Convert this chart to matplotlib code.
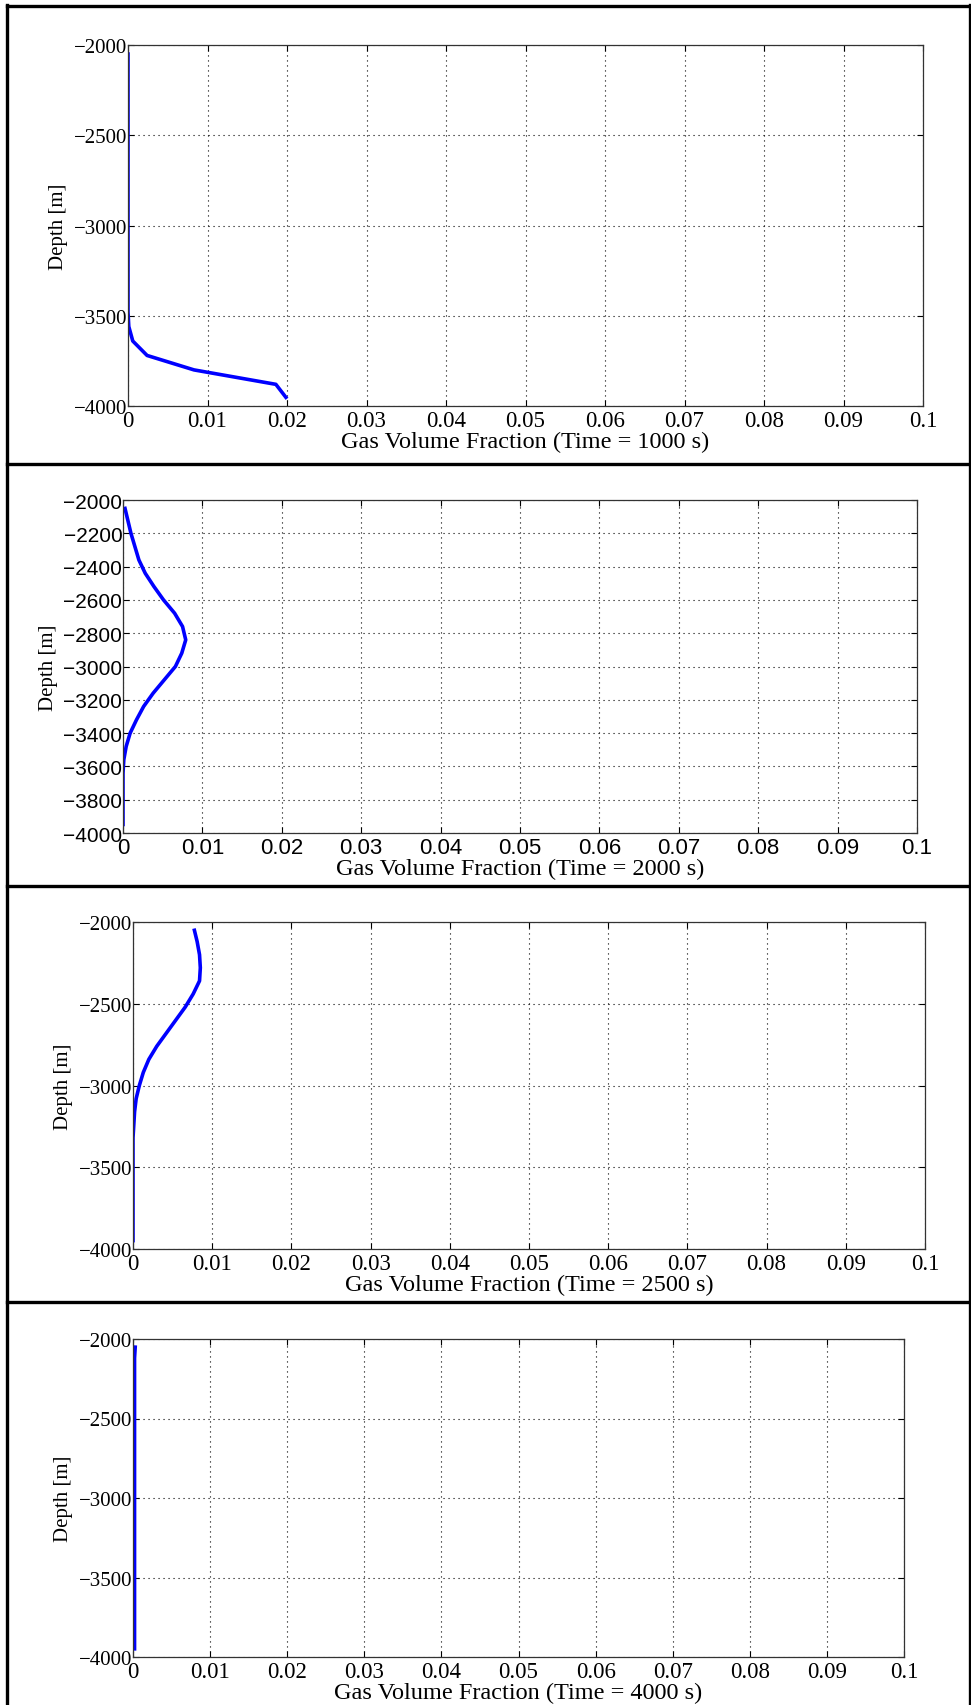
import matplotlib
matplotlib.use("Agg")
import matplotlib.pyplot as plt
from matplotlib.lines import Line2D

# depth cells (m), top to bottom
depth = [-2040, -2120, -2200, -2280, -2360, -2440, -2520, -2600, -2680,
         -2760, -2840, -2920, -3000, -3080, -3160, -3240, -3320, -3400,
         -3480, -3560, -3640, -3720, -3800, -3880, -3960]

# gas volume fraction at each cell for the four snapshots
gvf_1000 = [0, 0, 0, 0, 0, 0, 0, 0, 0, 0, 0, 0, 0, 0, 0, 0, 0, 0,
            0, 0.0001, 0.0006, 0.0024, 0.0083, 0.0186, 0.0200]
gvf_2000 = [0.0002, 0.0006, 0.0010, 0.0015, 0.0020, 0.0028, 0.0039, 0.0051,
            0.0065, 0.0075, 0.0079, 0.0074, 0.0066, 0.0052, 0.0038, 0.0026,
            0.0017, 0.0009, 0.0004, 0.0001, 0, 0, 0, 0, 0]
gvf_2500 = [0.0077, 0.0081, 0.0084, 0.0085, 0.0084, 0.0076, 0.0066, 0.0054,
            0.0042, 0.0030, 0.0020, 0.0013, 0.0008, 0.0004, 0.0002, 0.0001,
            0, 0, 0, 0, 0, 0, 0, 0, 0]
gvf_4000 = [0.0003] + [0.0002] * 24

times = [1000, 2000, 2500, 4000]
series = [gvf_1000, gvf_2000, gvf_2500, gvf_4000]

x_ticks = [0, 0.01, 0.02, 0.03, 0.04, 0.05, 0.06, 0.07, 0.08, 0.09, 0.1]
y_ticks_coarse = [-4000, -3500, -3000, -2500, -2000]
y_ticks_fine = [-4000, -3800, -3600, -3400, -3200, -3000, -2800, -2600,
                -2400, -2200, -2000]

W, H = 971, 1706
fig = plt.figure(figsize=(W / 100, H / 100), dpi=100)

# axes boxes in pixels: left, right, top, bottom
boxes = [(128, 923, 46, 407),
         (123, 917, 501, 834),
         (133, 925, 923, 1250),
         (133, 904, 1340, 1658)]
tick_fonts = ["Liberation Serif", "Liberation Sans", "Liberation Serif", "Liberation Serif"]
fine = [False, True, False, False]

for i in range(4):
    l, r, t, b = boxes[i]
    ax = fig.add_axes([l / W, 1 - b / H, (r - l) / W, (b - t) / H])
    ax.plot(series[i], depth, color="#0000ff", lw=2.6, solid_capstyle="butt")
    ax.set_xlim(0, 0.1)
    ax.set_ylim(-4000, -2000)
    ax.set_xticks(x_ticks)
    ax.set_xticklabels(["%g" % v for v in x_ticks])
    yt = y_ticks_fine if fine[i] else y_ticks_coarse
    ax.set_yticks(yt)
    ax.set_yticklabels(["\u2212%d" % abs(v) for v in yt])
    ax.grid(True, color="black", linestyle=(0, (1, 3.5)), lw=0.8)
    ax.tick_params(direction="in", length=4, width=0.8, top=True, right=True)
    ax.tick_params(axis="x", labelsize=16 if fine[i] else 16.5, pad=3)
    ax.tick_params(axis="y", labelsize=15, pad=0.5)
    for lab in ax.get_xticklabels() + ax.get_yticklabels():
        lab.set_fontfamily(tick_fonts[i])
    for s in ax.spines.values():
        s.set_linewidth(0.9)
        s.set_color("#333333")
    ax.set_xlabel("Gas Volume Fraction (Time = %d s)" % times[i],
                  family="Liberation Serif", fontsize=17.5, labelpad=0)
    ax.set_ylabel("Depth [m]", family="Liberation Serif", fontsize=15, labelpad=4)

# table frame around the panels
def hline(y):
    fig.add_artist(Line2D([7 / W, 1], [1 - y / H, 1 - y / H], color="black", lw=2.4,
                          transform=fig.transFigure))

def vline(x):
    fig.add_artist(Line2D([x / W, x / W], [0, 1 - 6 / H], color="black", lw=2.4,
                          transform=fig.transFigure))

for y in [7, 465, 887, 1303]:
    hline(y)
vline(7)
vline(969.5)

fig.savefig("out.png", dpi=100)
